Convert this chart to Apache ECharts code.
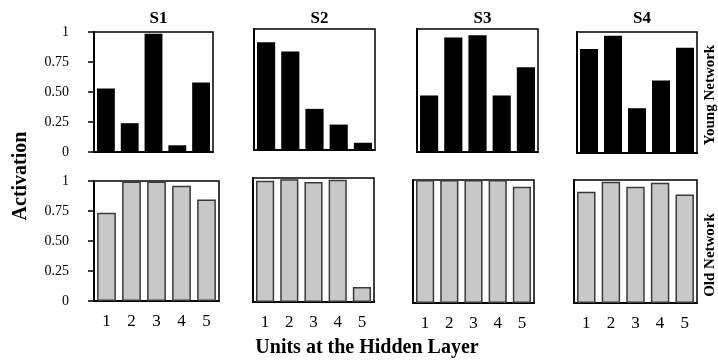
<!DOCTYPE html>
<html>
<head>
<meta charset="utf-8">
<script src="https://cdn.jsdelivr.net/npm/echarts@6/dist/echarts.min.js"></script>
<style>html,body{margin:0;padding:0;background:#fff}#c{width:718px;height:361px}</style>
</head>
<body>
<div id="c"></div>
<script>
// ---- data ----
const units = ['1', '2', '3', '4', '5'];
const subjects = ['S1', 'S2', 'S3', 'S4'];
const yTicks = [0, 0.25, 0.5, 0.75, 1];
const yTickLabels = ['0', '0.25', '0.50', '0.75', '1'];
const youngS1 = [0.53, 0.24, 0.985, 0.056, 0.58];
const youngS2 = [0.89, 0.815, 0.34, 0.21, 0.06];
const youngS3 = [0.46, 0.93, 0.95, 0.46, 0.69];
const youngS4 = [0.86, 0.97, 0.37, 0.60, 0.87];
const oldS1 = [0.735, 0.995, 0.995, 0.96, 0.845];
const oldS2 = [0.978, 0.99, 0.968, 0.986, 0.12];
const oldS3 = [1.0, 1.0, 1.0, 1.0, 0.945];
const oldS4 = [0.905, 0.986, 0.945, 0.978, 0.883];
const youngData = [youngS1, youngS2, youngS3, youngS4];
const oldData = [oldS1, oldS2, oldS3, oldS4];

// ---- layout ----
const FONT = "'Liberation Serif', 'DejaVu Serif', serif";
const topGrids = [
  {left: 94, top: 32, width: 119, height: 120},
  {left: 254, top: 29, width: 121, height: 121},
  {left: 417, top: 29, width: 121, height: 123},
  {left: 577, top: 32, width: 120, height: 121}
];
const botGrids = [
  {left: 94, top: 181, width: 125, height: 120},
  {left: 253, top: 178, width: 121, height: 124},
  {left: 413, top: 180, width: 121, height: 123},
  {left: 574, top: 180, width: 123, height: 123}
];

const grid = [], xAxis = [], yAxis = [], series = [], title = [];
function addPanel(g, data, isTop, col) {
  const idx = grid.length;
  grid.push(Object.assign({show: true, borderColor: '#000', borderWidth: 1.5, backgroundColor: 'transparent'}, g));
  xAxis.push({
    type: 'category', gridIndex: idx, data: units,
    axisLine: {show: true, lineStyle: {color: '#000', width: 2}},
    axisTick: {show: false},
    axisLabel: {show: !isTop, color: '#000', fontFamily: FONT, fontSize: 17, margin: 12}
  });
  yAxis.push({
    type: 'value', gridIndex: idx, min: 0, max: 1, interval: 0.25,
    splitLine: {show: false},
    axisLine: {show: true, lineStyle: {color: '#000', width: 2}},
    axisTick: {show: col === 0, length: 6, lineStyle: {color: '#000', width: 1.5}},
    axisLabel: {
      show: col === 0, color: '#000', fontFamily: FONT, fontSize: 14, margin: 25,
      padding: [0, 0, 6, 0],
      formatter: v => { const i = yTicks.indexOf(v); return i >= 0 ? yTickLabels[i] : ''; }
    }
  });
  series.push({
    type: 'bar', xAxisIndex: idx, yAxisIndex: idx, data: data,
    barCategoryGap: '25%', silent: true,
    itemStyle: isTop ? {color: '#000'} : {color: '#c8c8c8', borderColor: '#3a3a3a', borderWidth: 1.5}
  });
}
for (let i = 0; i < 4; i++) addPanel(topGrids[i], youngData[i], true, i);
for (let i = 0; i < 4; i++) addPanel(botGrids[i], oldData[i], false, i);

for (let i = 0; i < 4; i++) {
  const g = topGrids[i];
  title.push({
    text: subjects[i], left: g.left + g.width / 2, top: 5, textAlign: 'center',
    textStyle: {fontFamily: FONT, fontSize: 17, fontWeight: 'bold', color: '#000'}
  });
}

const chart = echarts.init(document.getElementById('c'), null, {renderer: 'canvas'});
chart.setOption({
  animation: false,
  backgroundColor: '#fff',
  title: title,
  grid: grid, xAxis: xAxis, yAxis: yAxis, series: series,
  graphic: [
    {type: 'text', x: 21, y: 176, rotation: Math.PI / 2,
     style: {text: 'Activation', fontFamily: FONT, fontSize: 20, fontWeight: 'bold', fill: '#000', align: 'center', verticalAlign: 'middle'}},
    {type: 'text', x: 367, y: 348,
     style: {text: 'Units at the Hidden Layer', fontFamily: FONT, fontSize: 20, fontWeight: 'bold', fill: '#000', align: 'center', verticalAlign: 'middle'}},
    {type: 'text', x: 710, y: 95, rotation: Math.PI / 2,
     style: {text: 'Young Network', fontFamily: FONT, fontSize: 15, fontWeight: 'bold', fill: '#000', align: 'center', verticalAlign: 'middle'}},
    {type: 'text', x: 710, y: 255, rotation: Math.PI / 2,
     style: {text: 'Old Network', fontFamily: FONT, fontSize: 15, fontWeight: 'bold', fill: '#000', align: 'center', verticalAlign: 'middle'}}
  ]
});
</script>
</body>
</html>
